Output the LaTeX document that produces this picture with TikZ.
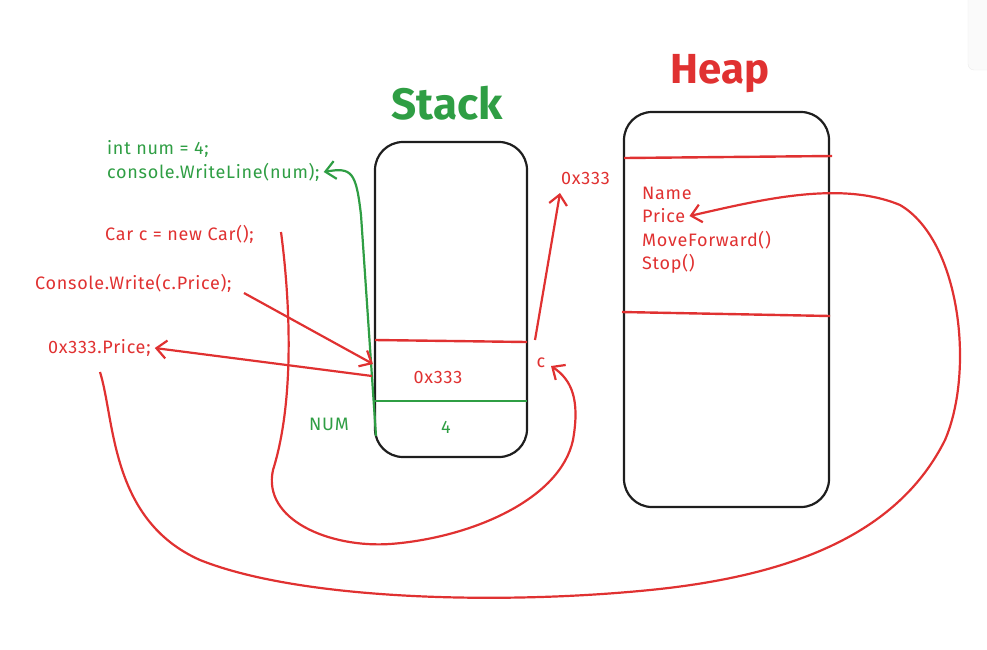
\documentclass[tikz,border=0pt]{standalone}
\usepackage{fontspec}
\setmainfont{Fira Sans}
\newfontfamily\codefont[LetterSpace=4]{Fira Sans}
\usetikzlibrary{arrows.meta}
\definecolor{xred}{HTML}{E03131}
\definecolor{xgreen}{HTML}{2F9E44}
\definecolor{xblack}{HTML}{1E1E1E}
\tikzset{
  box/.style={draw=xblack,line width=2.2pt,rounded corners=28pt},
  redln/.style={draw=xred,line width=2.4pt},
  greenln/.style={draw=xgreen,line width=2.4pt},
  redarr/.style={draw=xred,line width=2.2pt,-{Straight Barb[length=10pt,width=18pt,line width=2.2pt]}},
  greenarr/.style={draw=xgreen,line width=2.2pt,-{Straight Barb[length=10pt,width=18pt,line width=2.2pt]}},
  code/.style={font=\codefont\fontsize{18}{21}\selectfont,inner sep=0pt,anchor=west},
  title/.style={font=\fontsize{44}{48}\selectfont\bfseries,inner sep=0pt},
}
\begin{document}
\begin{tikzpicture}[x=1pt,y=-1pt]
\useasboundingbox (0,0) rectangle (987,649);
% UI fragment top right
\draw[draw=black!8,fill=black!2,rounded corners=6pt] (968,-10) rectangle (1000,70);
% boxes
\draw[box] (375,142) rectangle (527,457);
\draw[box] (624,112) rectangle (829,507);
\coordinate (sA) at (375,340);
\coordinate (sB) at (527,342);
\coordinate (sC) at (374,401);
\coordinate (sD) at (527,401);
\draw[redln] (sA) -- (sB);
\draw[greenln] (sC) -- (sD);
\coordinate (hA) at (624,158);
\coordinate (hB) at (832,156);
\coordinate (hC) at (622,312);
\coordinate (hD) at (830,316);
\draw[redln] (hA) -- (hB);
\draw[redln] (hC) -- (hD);
% titles
\node[title,text=xgreen] (stack) at (447,103) {Stack};
\node[title,text=xred,font=\fontsize{42}{46}\selectfont\bfseries] (heap) at (720,74) {Heap};
% stack texts
\node[code,text=xred,anchor=center] (addr) at (438,377) {0x333};
\node[code,text=xgreen,anchor=center] (four) at (446,427) {4};
\node[code,text=xgreen,anchor=center] (num) at (329,424) {NUM};
\node[code,text=xred,anchor=center] (cvar) at (541,363) {c};
% heap texts
\node[code,text=xred] (haddr) at (561,178) {0x333};
\node[code,text=xred] (name) at (642,193) {Name};
\node[code,text=xred] (price) at (642,216) {Price};
\node[code,text=xred] (move) at (642,240) {MoveForward()};
\node[code,text=xred] (stop) at (642,264) {Stop()};
% left texts
\node[code,text=xgreen] (intnum) at (107,149) {int num = 4;};
\node[code,text=xgreen] (cwl) at (107,172) {console.WriteLine(num);};
\node[code,text=xred] (carc) at (105,234) {Car c = new Car();};
\node[code,text=xred] (cw) at (35,283) {Console.Write(c.Price);};
\node[code,text=xred] (pr) at (48,348) {0x333.Price;};
% connectors
\coordinate (g0) at (376,436);
\draw[greenarr] (g0) -- (361,215) .. controls (356,172) and (352,167) .. ([xshift=4pt]cwl.east);
\coordinate (cw1) at (244,293);
\coordinate (cw2) at (373,364);
\draw[redarr] (cw1) -- (cw2);
\coordinate (pr1) at (372,376);
\draw[redarr] (pr1) -- ([xshift=4pt]pr.east);
\coordinate (c1) at (535,340);
\coordinate (c2) at (560,193);
\draw[redarr] (c1) -- (c2);
\coordinate (k0) at (281,232);
\draw[redarr] (k0) .. controls (290,300) and (295,400) .. (273,470)
  .. controls (262,520) and (330,548) .. (390,544)
  .. controls (470,538) and (560,500) .. (573,440)
  .. controls (580,400) and (572,380) .. (551,366);
\coordinate (p0) at (100,372);
\draw[redarr] (p0) .. controls (115,420) and (110,520) .. (200,560)
  .. controls (300,600) and (500,605) .. (650,590)
  .. controls (800,575) and (900,530) .. (945,440)
  .. controls (975,370) and (960,240) .. (900,205)
  .. controls (840,180) and (760,200) .. ([xshift=4pt]price.east);
\end{tikzpicture}
\end{document}
